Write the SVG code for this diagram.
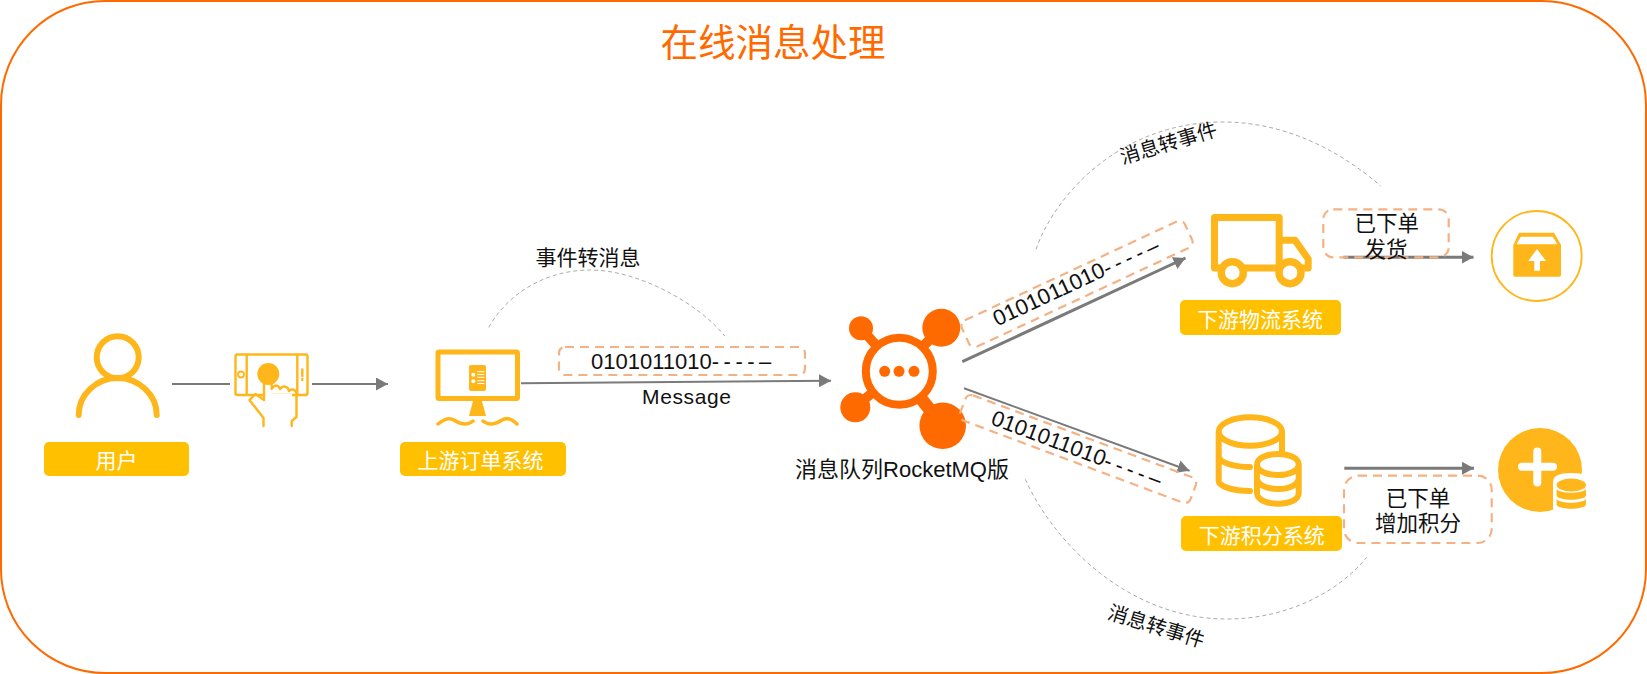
<svg xmlns="http://www.w3.org/2000/svg" width="1647" height="674" viewBox="0 0 1647 674">
<style>
text{font-family:"Liberation Sans","Noto Sans CJK SC",sans-serif;fill:#111;text-anchor:middle;dominant-baseline:central}
.cjk{font-family:"Noto Sans CJK SC",sans-serif;font-size:21px}
.note{font-family:"Noto Sans CJK SC",sans-serif;font-size:21.500px}
.lbl{font-family:"Noto Sans CJK SC",sans-serif;font-size:21px;fill:#fff}
.box{fill:#FFC000}
.ln{fill:none;stroke:#FFB61A;stroke-linecap:round;stroke-linejoin:round}
.solid{fill:#FFB61A}
.dash{fill:#fff;fill-opacity:0;stroke:#F4B183;stroke-width:2.2;stroke-dasharray:9 6}
.arc{fill:none;stroke:#ABABAB;stroke-width:1;stroke-dasharray:4 3}
.ar{fill:none;stroke:#7A7A7A;stroke-width:2}
.ar3{fill:none;stroke:#7A7A7A;stroke-width:3}
.bits{font-size:22px;text-anchor:start}
.bits tspan{letter-spacing:-.8px}
</style>
<defs>
<marker id="a" markerUnits="userSpaceOnUse" markerWidth="14" markerHeight="14" refX="12" refY="6.5" orient="auto"><path d="M0 0L12 6.5L0 13z" fill="#7A7A7A"/></marker>
</defs>
<rect id="frame" x="1" y="1" width="1645" height="672" rx="104" ry="104" fill="#fff" stroke="#FF6A00" stroke-width="2"/>
<text id="title" x="773" y="39.500" style="font-family:'Noto Sans CJK SC',sans-serif;font-size:37.500px;fill:#FF6A00">在线消息处理</text>

<g id="connectors">
<path class="ar" d="M172 384H230"/>
<path class="ar" d="M312 384H388" marker-end="url(#a)"/>
<path class="ar" d="M521 383.300L831 380.700" marker-end="url(#a)"/>
<path class="ar3" d="M962.300 361.700L1185.500 258" marker-end="url(#a)"/>
<path class="ar" d="M964 388.300L1189.500 470.700" marker-end="url(#a)"/>
<path class="ar3" d="M1343.300 257.300H1473.500" marker-end="url(#a)"/>
<path class="ar3" d="M1344.300 468.300H1474" marker-end="url(#a)"/>
<path class="arc" d="M488.700 327.300C510 290 550 270 590 270C640 270 700 305 724.700 336"/>
<path class="arc" d="M1036 249.300C1055 195 1120 122 1223 122C1290 122 1345 155 1380.700 186"/>
<path class="arc" d="M1025.300 479.300C1055 545 1130 619 1226.700 619C1290 619 1340 590 1366.700 557.300"/>
</g>

<g id="user">
<circle class="ln" cx="117.700" cy="357.300" r="21" stroke-width="6"/>
<path class="ln" stroke-width="6" d="M78.700 415C78.700 394 97 378 117.700 378C138 378 156.700 394 156.700 415"/>
<rect class="box" x="44" y="442" width="145" height="34" rx="5"/>
<text class="lbl" x="116.500" y="459">用户</text>
</g>

<g id="tablet">
<rect class="ln" stroke-width="2.400" x="235.500" y="354.500" width="72" height="40.500" rx="2"/>
<path class="ln" stroke-width="2.400" d="M246.700 355V394.500M297.300 355V394.500M302.300 369.500V376M302.300 379V380"/>
<circle class="ln" stroke-width="1.800" cx="241" cy="374.500" r="3"/>
<path d="M264 383H272V394H292V420H264z" fill="#fff"/>
<circle class="solid" cx="268.300" cy="374" r="11"/>
<path class="ln" stroke-width="2.400" d="M264 384.500V400L255.500 394L249.500 400L263.500 418V426M271.700 385V389C274 384 279 385 280 389C283 385 288 386 289 391C292 388 296 390 296.500 393V417L291.700 421V426"/>
</g>

<g id="order">
<rect class="ln" stroke-width="5" x="438" y="352" width="79.500" height="46.500" rx="1"/>
<rect class="solid" x="469" y="365" width="17" height="26" rx="2"/>
<g fill="#fff"><circle cx="473.300" cy="374.700" r="2"/><circle cx="473.300" cy="381.300" r="2"/></g>
<path d="M477.300 371.700H484.300M477.300 374.500H484.300M477.300 377.300H484.300M477.300 380.700H484.300M477.300 383.500H484.300" stroke="#fff" stroke-width="1"/>
<path class="solid" d="M473.300 400H481.700L486 416H469z"/>
<path class="ln" stroke-width="3.500" d="M438 424C444 419 449 417 454 420C460 424 467 426 473 421M483 421C489 426 496 424 502 420C507 417 512 419 517 424"/>
<rect class="box" x="400" y="442" width="166" height="34" rx="5"/>
<text class="lbl" x="480.500" y="459">上游订单系统</text>
</g>

<g id="mq" fill="#FF6A00">
<path stroke="#FF6A00" stroke-width="10" d="M861 328.300L899 371M941 328L899 371M855 407L899 371"/>
<path stroke="#FF6A00" stroke-width="13" d="M942.700 425.700L899 371"/>
<circle cx="861" cy="328.300" r="12"/>
<circle cx="941.300" cy="327.700" r="19"/>
<circle cx="855.300" cy="407.300" r="15"/>
<circle cx="942.700" cy="425.700" r="23.300"/>
<circle cx="899.300" cy="371.300" r="33.500" fill="#fff" stroke="#FF6A00" stroke-width="8"/>
<circle cx="884.700" cy="371.300" r="5.500"/><circle cx="899" cy="371.300" r="5.500"/><circle cx="914" cy="371.300" r="5.500"/>
<text x="902" y="469.500" style="font-size:22px">消息队列RocketMQ版</text>
</g>

<g id="logistics">
<path class="ln" stroke-width="7" d="M1214.500 217.500H1279.200V268H1214.500zM1279.200 240.200H1295L1308.200 259V268H1279.200"/>
<circle cx="1232.300" cy="272.700" r="11" fill="#fff" stroke="#FFB61A" stroke-width="7.400"/>
<circle cx="1290" cy="272.700" r="11" fill="#fff" stroke="#FFB61A" stroke-width="7.400"/>
<rect class="box" x="1180" y="300" width="161" height="35" rx="5"/>
<text class="lbl" x="1260" y="318">下游物流系统</text>
</g>

<g id="points">
<path class="ln" stroke-width="6" d="M1282 452V431.700M1218.700 431.700C1218.700 424 1232 417.300 1250.300 417.300C1268 417.300 1282 424 1282 431.700C1282 439 1268 445.700 1250.300 445.700C1232 445.700 1218.700 439 1218.700 431.700V481C1218.700 486 1232 491 1250 491M1218.700 456C1218.700 462 1232 467 1250 467"/>
<path class="ln" stroke-width="6" d="M1257 464.500C1257 458 1267 454 1278 454C1289 454 1298.700 458 1298.700 464.500V493C1298.700 500 1289 503.700 1278 503.700C1267 503.700 1257 500 1257 493zM1257 464.500C1257 471 1267 475 1278 475C1289 475 1298.700 471 1298.700 464.500M1257 478C1257 485 1267 489 1278 489C1289 489 1298.700 485 1298.700 478"/>
<rect class="box" x="1181" y="516" width="161" height="35" rx="5"/>
<text class="lbl" x="1261.700" y="534">下游积分系统</text>
</g>

<g id="ship">
<circle cx="1536.700" cy="256" r="45" fill="#fff" stroke="#FFB61A" stroke-width="1.800"/>
<path class="solid" d="M1519 232.700H1554L1561 245V275Q1561 276.700 1559 276.700H1515Q1513.300 276.700 1513.300 275V245z"/>
<path d="M1520.700 236.700H1552.700L1557.300 244.300H1516.500z" fill="#fff"/>
<path d="M1537 249L1528.300 261H1534.300V270.700H1540V261H1546z" fill="#fff"/>
</g>

<g id="add">
<circle class="solid" cx="1540" cy="470" r="42"/>
<path d="M1522 466.700H1553M1537.300 451.500V482.500" stroke="#fff" stroke-width="8" stroke-linecap="round"/>
<path d="M1553 513V482Q1553 473 1571 473Q1590 473 1590 482V513z" fill="#fff"/>
<ellipse class="solid" cx="1571.300" cy="485" rx="14.700" ry="6.500"/>
<path class="solid" d="M1556.600 489C1560 494 1582 494 1586 489V496C1582 501 1560 501 1556.600 496z"/>
<path class="solid" d="M1556.600 499C1560 504 1582 504 1586 499V505C1582 510 1560 510 1556.600 505z"/>
</g>

<g id="message-labels">
<text class="cjk" x="588" y="255.700">事件转消息</text>
<rect class="dash" x="559" y="347" width="246" height="28" rx="6"/>
<text class="bits" x="591" y="361">0101011010<tspan>- - - - –</tspan></text>
<text x="686.500" y="396" style="font-size:21px" textLength="89">Message</text>
<rect class="dash" x="954" y="269.500" width="246" height="29" rx="6" transform="rotate(-25 1077 284)"/>
<text class="bits" transform="translate(1077 281) rotate(-25)" x="-91.500">0101011010<tspan>- - - - –</tspan></text>
<rect class="dash" x="955" y="435.500" width="246" height="27" rx="6" transform="rotate(20.500 1078 449)"/>
<text class="bits" transform="translate(1078 449) rotate(20.500)" x="-91.500">0101011010<tspan>- - - - –</tspan></text>
<text class="cjk" transform="translate(1168 141.700) rotate(-16.600)" style="font-size:20px">消息转事件</text>
<text class="cjk" transform="translate(1156.700 625) rotate(17.200)" style="font-size:20px">消息转事件</text>
<rect class="dash" x="1323.300" y="209.300" width="125.400" height="48" rx="10"/>
<text class="note" x="1386.700" y="221">已下单</text>
<text class="note" x="1386" y="247">发货</text>
<rect class="dash" x="1344" y="475.700" width="147.700" height="67.300" rx="14"/>
<text class="note" x="1418" y="496.700">已下单</text>
<text class="note" x="1418" y="521.700">增加积分</text>
</g>
</svg>
